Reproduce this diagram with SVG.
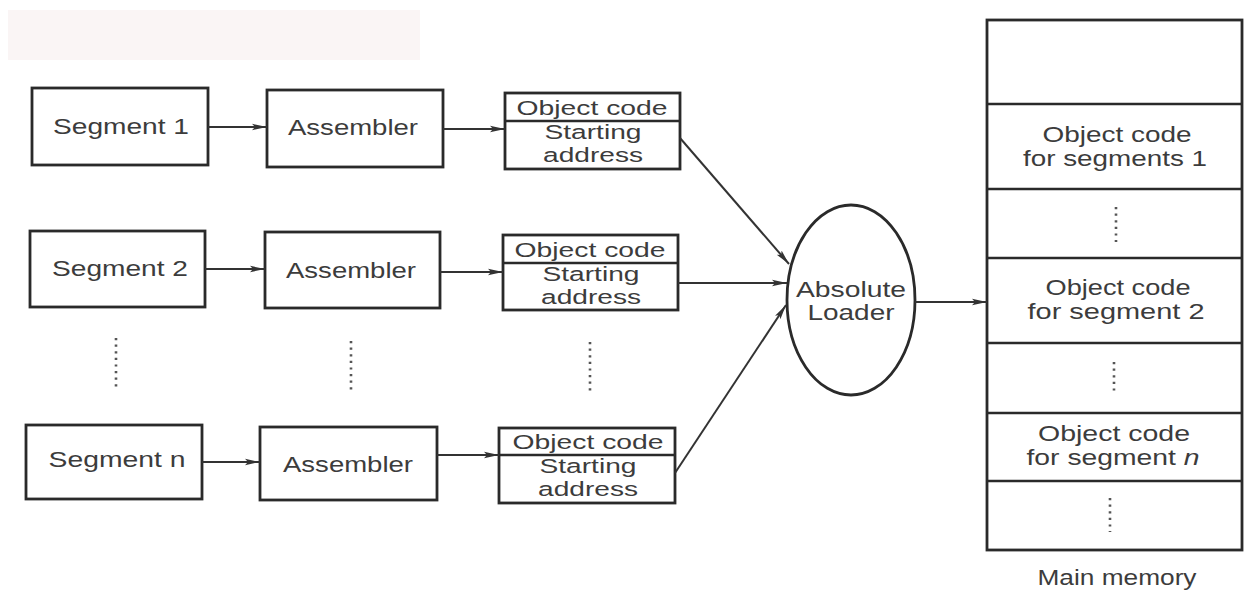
<svg xmlns="http://www.w3.org/2000/svg" width="1251" height="597" viewBox="0 0 1251 597">
  <style>
    .box { fill: #ffffff; stroke: #2a2a2a; stroke-width: 2.8; }
    .div { stroke: #2a2a2a; stroke-width: 2.4; fill: none; }
    .lbl { font-family: "Liberation Sans", Arial, sans-serif; font-size: 22px; fill: #3c3c3c; text-anchor: middle; }
    .sm { font-size: 20.5px; }
    .wire { stroke: #333333; stroke-width: 2; fill: none; marker-end: url(#head); }
    .dots { stroke: #555555; stroke-width: 2.6; stroke-dasharray: 2.2 4.4; fill: none; }
  </style>
  <defs>
    <marker id="head" markerUnits="userSpaceOnUse" markerWidth="16" markerHeight="10" refX="15" refY="5" orient="auto">
      <path d="M0,1.8 L15,5 L0,8.2 L3,5 Z" fill="#333333"/>
    </marker>
  </defs>

  <rect width="1251" height="597" fill="#ffffff"/>
  <!-- faint paper tint along the top-left -->
  <rect x="8" y="10" width="412" height="50" fill="#faf5f5"/>

  <!-- row 1 -->
  <g id="segment1">
    <rect class="box" x="32" y="88" width="176" height="77"/>
    <text class="lbl" x="121" y="134" textLength="136" lengthAdjust="spacingAndGlyphs">Segment 1</text>
  </g>
  <g id="assembler1">
    <rect class="box" x="267" y="90" width="176" height="77"/>
    <text class="lbl" x="353" y="135" textLength="130" lengthAdjust="spacingAndGlyphs">Assembler</text>
  </g>
  <g id="object1">
    <rect class="box" x="505" y="93" width="175" height="76"/>
    <line class="div" x1="505" y1="121" x2="680" y2="121"/>
    <text class="lbl sm" x="592" y="115" textLength="151" lengthAdjust="spacingAndGlyphs">Object code</text>
    <text class="lbl sm" x="593" y="139" textLength="97" lengthAdjust="spacingAndGlyphs">Starting</text>
    <text class="lbl sm" x="593" y="162" textLength="100" lengthAdjust="spacingAndGlyphs">address</text>
  </g>

  <!-- row 2 -->
  <g id="segment2">
    <rect class="box" x="30" y="231" width="175" height="76"/>
    <text class="lbl" x="120" y="276" textLength="136" lengthAdjust="spacingAndGlyphs">Segment 2</text>
  </g>
  <g id="assembler2">
    <rect class="box" x="265" y="232" width="175" height="76"/>
    <text class="lbl" x="351" y="278" textLength="130" lengthAdjust="spacingAndGlyphs">Assembler</text>
  </g>
  <g id="object2">
    <rect class="box" x="503" y="235" width="175" height="75"/>
    <line class="div" x1="503" y1="263" x2="678" y2="263"/>
    <text class="lbl sm" x="590" y="257" textLength="151" lengthAdjust="spacingAndGlyphs">Object code</text>
    <text class="lbl sm" x="591" y="281" textLength="97" lengthAdjust="spacingAndGlyphs">Starting</text>
    <text class="lbl sm" x="591" y="304" textLength="100" lengthAdjust="spacingAndGlyphs">address</text>
  </g>

  <!-- row n -->
  <g id="segmentN">
    <rect class="box" x="26" y="425" width="176" height="74"/>
    <text class="lbl" x="117" y="467" textLength="137" lengthAdjust="spacingAndGlyphs">Segment n</text>
  </g>
  <g id="assemblerN">
    <rect class="box" x="260" y="427" width="177" height="73"/>
    <text class="lbl" x="348" y="472" textLength="130" lengthAdjust="spacingAndGlyphs">Assembler</text>
  </g>
  <g id="objectN">
    <rect class="box" x="499" y="428" width="176" height="75"/>
    <line class="div" x1="499" y1="455" x2="675" y2="455"/>
    <text class="lbl sm" x="588" y="449" textLength="151" lengthAdjust="spacingAndGlyphs">Object code</text>
    <text class="lbl sm" x="588" y="473" textLength="97" lengthAdjust="spacingAndGlyphs">Starting</text>
    <text class="lbl sm" x="588" y="496" textLength="100" lengthAdjust="spacingAndGlyphs">address</text>
  </g>

  <!-- vertical ellipsis between rows -->
  <g id="ellipsis">
    <line class="dots" x1="116" y1="338" x2="116" y2="388"/>
    <line class="dots" x1="351" y1="341" x2="351" y2="390"/>
    <line class="dots" x1="590" y1="342" x2="590" y2="391"/>
  </g>

  <!-- loader -->
  <g id="loader">
    <ellipse cx="851" cy="300" rx="64" ry="95" fill="#ffffff" stroke="#2a2a2a" stroke-width="2.8"/>
    <text class="lbl" x="851" y="297" textLength="110" lengthAdjust="spacingAndGlyphs">Absolute</text>
    <text class="lbl" x="851" y="320" textLength="87" lengthAdjust="spacingAndGlyphs">Loader</text>
  </g>

  <!-- main memory -->
  <g id="memory">
    <rect class="box" x="987" y="20" width="255" height="530"/>
    <line class="div" x1="987" y1="104" x2="1242" y2="104"/>
    <line class="div" x1="987" y1="189" x2="1242" y2="189"/>
    <line class="div" x1="987" y1="258" x2="1242" y2="258"/>
    <line class="div" x1="987" y1="343" x2="1242" y2="343"/>
    <line class="div" x1="987" y1="413" x2="1242" y2="413"/>
    <line class="div" x1="987" y1="481" x2="1242" y2="481"/>
    <text class="lbl" x="1117" y="142" textLength="149" lengthAdjust="spacingAndGlyphs">Object code</text>
    <text class="lbl" x="1115" y="166" textLength="184" lengthAdjust="spacingAndGlyphs">for segments 1</text>
    <line class="dots" x1="1116" y1="207" x2="1116" y2="242"/>
    <text class="lbl" x="1118" y="295" textLength="145" lengthAdjust="spacingAndGlyphs">Object code</text>
    <text class="lbl" x="1116" y="319" textLength="177" lengthAdjust="spacingAndGlyphs">for segment 2</text>
    <line class="dots" x1="1114" y1="362" x2="1114" y2="395"/>
    <text class="lbl" x="1114" y="441" textLength="152" lengthAdjust="spacingAndGlyphs">Object code</text>
    <text class="lbl" x="1113" y="465" textLength="173" lengthAdjust="spacingAndGlyphs">for segment <tspan font-style="italic">n</tspan></text>
    <line class="dots" x1="1110" y1="498" x2="1110" y2="532"/>
    <text class="lbl" x="1117" y="585" textLength="159" lengthAdjust="spacingAndGlyphs">Main memory</text>
  </g>

  <!-- connectors -->
  <g id="connectors">
    <line class="wire" x1="208" y1="127" x2="267" y2="127"/>
    <line class="wire" x1="443" y1="129" x2="505" y2="129"/>
    <line class="wire" x1="205" y1="269" x2="265" y2="269"/>
    <line class="wire" x1="440" y1="272" x2="503" y2="272"/>
    <line class="wire" x1="202" y1="462" x2="260" y2="462"/>
    <line class="wire" x1="437" y1="455" x2="499" y2="455"/>
    <line class="wire" x1="680" y1="138" x2="789" y2="264"/>
    <line class="wire" x1="678" y1="283" x2="787" y2="283"/>
    <line class="wire" x1="675" y1="473" x2="786" y2="305"/>
    <line class="wire" x1="915" y1="302" x2="987" y2="302"/>
  </g>
</svg>
